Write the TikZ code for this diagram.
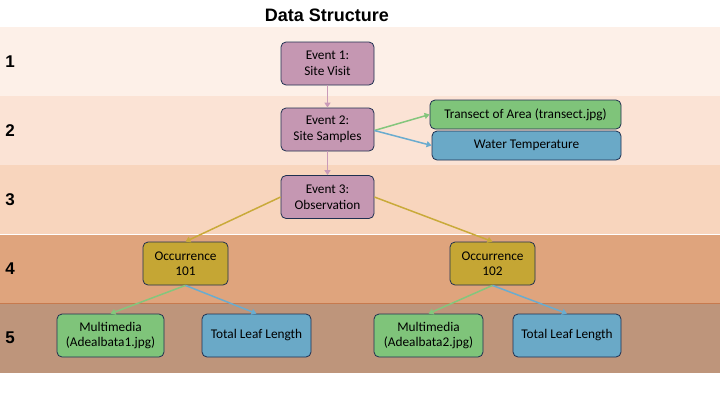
\documentclass[tikz,border=0pt]{standalone}
\usepackage{fontspec}
\setmainfont{Carlito}
\newfontfamily\headfont{Liberation Sans}
\usetikzlibrary{arrows.meta}

\definecolor{bandA}{HTML}{FDF0E8}
\definecolor{bandB}{HTML}{FBE3D5}
\definecolor{bandC}{HTML}{F8D5BD}
\definecolor{bandD}{HTML}{DFA47D}
\definecolor{bandE}{HTML}{BE957B}
\definecolor{edgeNavy}{HTML}{1F3050}
\definecolor{eventFill}{HTML}{C597B2}
\definecolor{eventLine}{HTML}{C99AB8}
\definecolor{greenFill}{HTML}{7FC47A}
\definecolor{greenLine}{HTML}{84C67C}
\definecolor{blueFill}{HTML}{6AA9C7}
\definecolor{blueLine}{HTML}{6AACCF}
\definecolor{occFill}{HTML}{C5A634}
\definecolor{occLine}{HTML}{C9AA3A}
\definecolor{bandRule}{HTML}{C77A4E}

\begin{document}
\begin{tikzpicture}[x=1pt, y=-1pt]
  \tikzstyle{box} = [draw=edgeNavy, line width=0.8pt, rounded corners=5pt, align=center, inner sep=2pt, font=\fontsize{13.3}{15.5}\selectfont]
  \tikzstyle{event} = [box, fill=eventFill, minimum width=93pt, minimum height=43pt]
  \tikzstyle{occurrence} = [box, fill=occFill, minimum width=85pt, minimum height=43pt]
  \tikzstyle{media} = [box, fill=greenFill, minimum height=43pt]
  \tikzstyle{measure} = [box, fill=blueFill, minimum height=43pt]
  \tikzstyle{link} = [line width=1.5pt, -{Triangle[length=5pt, width=6pt]}]

  \useasboundingbox (0,0) rectangle (720,405);

  % Draw level bands
  \foreach \n/\col/\top/\bot in {1/bandA/27/96, 2/bandB/96/165, 3/bandC/165/234, 4/bandD/234/303, 5/bandE/303/373}
    {
    \fill[\col] (0,\top) rectangle (720,\bot);
    \node[font=\headfont\bfseries\fontsize{17}{19}\selectfont] (lvl\n) at (10,{(\top+\bot)/2}) {\n};
    }
  \draw[white, line width=1pt] (0,234) -- (720,234);
  \draw[bandRule, line width=0.8pt] (0,303) -- (720,303);

  % Title
  \node[font=\headfont\bfseries\fontsize{18}{20}\selectfont] (title) at (327,15) {Data Structure};

  % Draw event nodes
  \node[event] (ev1) at (327.5,63.5) {Event 1:\\Site Visit};
  \node[event] (ev2) at (327.5,129.5) {Event 2:\\Site Samples};
  \node[event] (ev3) at (327.5,197) {Event 3:\\Observation};

  % Site sample records
  \node[media, minimum width=191pt, minimum height=29pt] (transect) at (525.5,114.5) {Transect of Area (transect.jpg)};
  \node[measure, minimum width=189pt, minimum height=29pt] (water) at (526.5,145.5) {Water Temperature};

  % Draw occurrence nodes
  \node[occurrence] (occ1) at (185.5,263.5) {Occurrence\\101};
  \node[occurrence] (occ2) at (492.5,263.5) {Occurrence\\102};

  % Occurrence records
  \node[media, minimum width=107pt] (mm1) at (110.5,335.5) {Multimedia\\(Adealbata1.jpg)};
  \node[measure, minimum width=109pt] (tll1) at (256.5,335.5) {Total Leaf Length};
  \node[media, minimum width=109pt] (mm2) at (428.5,335.5) {Multimedia\\(Adealbata2.jpg)};
  \node[measure, minimum width=108pt] (tll2) at (567,335.5) {Total Leaf Length};

  % Connections
  \draw[link, eventLine] (ev1) -- (ev2);
  \draw[link, eventLine] (ev2) -- (ev3);
  \draw[link, greenLine] ([yshift=-1pt]ev2.east) -- (transect.west);
  \draw[link, blueLine] ([yshift=-1pt]ev2.east) -- (water.west);
  \draw[link, occLine] (ev3.west) -- (occ1.north);
  \draw[link, occLine] (ev3.east) -- (occ2.north);
  \foreach \o/\m/\t in {occ1/mm1/tll1, occ2/mm2/tll2}
    {
    \draw[link, greenLine] (\o.south) -- (\m.north);
    \draw[link, blueLine] (\o.south) -- (\t.north);
    }

\end{tikzpicture}
\end{document}
